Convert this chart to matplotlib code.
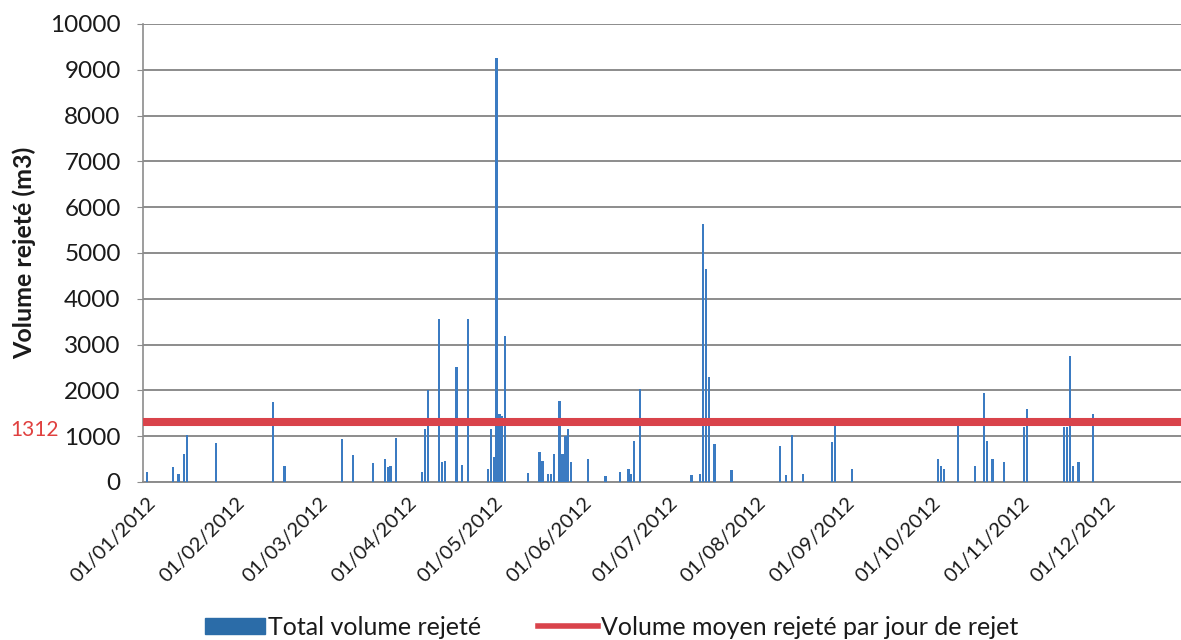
import matplotlib
matplotlib.use("Agg")
import matplotlib.pyplot as plt
import matplotlib.dates as mdates
import matplotlib.patches as mpatches
import matplotlib.lines as mlines
import pandas as pd

plt.rcParams['font.family'] = ['Lato', 'DejaVu Sans']

# Volumes rejetés par jour de rejet (m3)
dates_rejet = [
    '2012-01-01', '2012-01-10', '2012-01-12', '2012-01-14', '2012-01-15', '2012-01-25',
    '2012-02-14', '2012-02-18',
    '2012-03-09', '2012-03-13', '2012-03-20', '2012-03-24', '2012-03-25', '2012-03-26', '2012-03-28',
    '2012-04-06', '2012-04-07', '2012-04-08', '2012-04-12', '2012-04-13', '2012-04-14',
    '2012-04-18', '2012-04-20', '2012-04-22', '2012-04-29', '2012-04-30',
    '2012-05-01', '2012-05-02', '2012-05-03', '2012-05-04', '2012-05-05', '2012-05-13',
    '2012-05-17', '2012-05-18', '2012-05-20', '2012-05-21', '2012-05-22', '2012-05-24',
    '2012-05-25', '2012-05-26', '2012-05-27', '2012-05-28',
    '2012-06-03', '2012-06-09', '2012-06-14', '2012-06-17', '2012-06-18', '2012-06-19', '2012-06-21',
    '2012-07-09', '2012-07-12', '2012-07-13', '2012-07-14', '2012-07-15', '2012-07-17', '2012-07-23',
    '2012-08-09', '2012-08-11', '2012-08-13', '2012-08-17', '2012-08-27', '2012-08-28',
    '2012-09-03',
    '2012-10-03', '2012-10-04', '2012-10-05', '2012-10-10', '2012-10-16', '2012-10-19',
    '2012-10-20', '2012-10-22', '2012-10-26',
    '2012-11-02', '2012-11-03', '2012-11-16', '2012-11-17', '2012-11-18', '2012-11-19',
    '2012-11-21', '2012-11-26',
]
volumes = [
    220, 330, 170, 600, 1020, 850,
    1740, 350,
    930, 590, 410, 500, 330, 350, 950,
    220, 1150, 2000, 3550, 430, 460,
    2500, 370, 3550, 280, 1150,
    540, 9250, 1480, 1450, 3190, 200,
    650, 450, 180, 180, 620, 1770,
    600, 1000, 1150, 430,
    510, 140, 220, 280, 180, 900, 2040,
    150, 170, 5640, 4640, 2290, 830, 270,
    780, 150, 1020, 170, 870, 1250,
    280,
    500, 350, 280, 1290, 350, 1950,
    900, 500, 430,
    1200, 1600, 1200, 1200, 2750, 350,
    430, 1480,
]
volume_moyen = 1312

y_ticks = [0, 1000, 2000, 3000, 4000, 5000, 6000, 7000, 8000, 9000, 10000]

dates = pd.to_datetime(dates_rejet)
debut = pd.Timestamp('2012-01-01')

fig = plt.figure(figsize=(11.81, 6.4), dpi=100)
ax = fig.add_axes([0.121, 0.247, 0.879, 0.7155])

ax.bar(dates, volumes, width=0.8, color='#3b7bc2', linewidth=0, zorder=3)
ax.axhline(volume_moyen, color='#d9434b', linewidth=5.8, zorder=4)

ax.set_ylim(0, 10000)
ax.set_yticks(y_ticks)
ax.set_xlim(debut - pd.Timedelta(days=1.4), debut + pd.Timedelta(days=360.8))

ax.xaxis.set_major_locator(mdates.MonthLocator())
ax.xaxis.set_major_formatter(mdates.DateFormatter('%d/%m/%Y'))
for lbl in ax.get_xticklabels():
    lbl.set_rotation(45)
    lbl.set_ha('right')
    lbl.set_va('top')
    lbl.set_rotation_mode('anchor')

ax.yaxis.grid(True, color='#8c8c8c', linewidth=1.4, zorder=0)
ax.set_axisbelow(True)
for side in ['top', 'right']:
    ax.spines[side].set_visible(False)
ax.spines['left'].set_color('#8c8c8c')
ax.spines['left'].set_linewidth(1.2)
ax.spines['bottom'].set_color('#8c8c8c')
ax.spines['bottom'].set_linewidth(1.4)

ax.tick_params(axis='y', length=4, color='#8c8c8c', pad=12, labelsize=17.5, labelcolor='#1a1a1a')
ax.tick_params(axis='x', length=0, pad=9, labelsize=14.5, labelcolor='#1a1a1a')

ax.set_ylabel('Volume rejeté (m3)', fontsize=18, fontweight='bold', color='#1a1a1a', labelpad=10)

# valeur moyenne rappelée à gauche de l'axe
ax.annotate(str(volume_moyen), xy=(-0.128, volume_moyen), xycoords=('axes fraction', 'data'),
            xytext=(0, -6), textcoords='offset points',
            ha='left', va='center', fontsize=15, color='#e0403f')

h_bar = mpatches.Patch(color='#2b6ca8', label='Total volume rejeté')
h_moy = mlines.Line2D([], [], color='#d9434b', linewidth=4, label='Volume moyen rejeté par jour de rejet')
fig.legend(handles=[h_bar, h_moy], loc='center', bbox_to_anchor=(0.518, 0.02),
           ncol=2, frameon=False, fontsize=18, handlelength=2.4, handleheight=0.6,
           handletextpad=0.1, columnspacing=2.3, labelcolor='#1a1a1a')

fig.savefig('out.png', dpi=100, facecolor='white')
